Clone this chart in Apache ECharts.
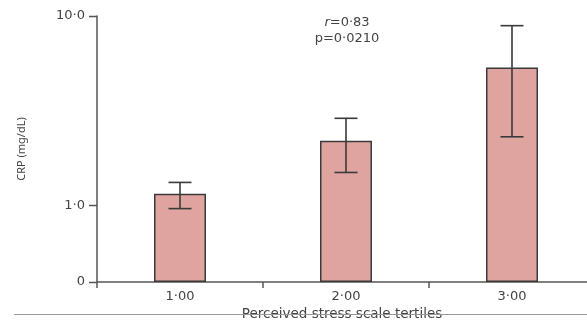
<!DOCTYPE html>
<html>
<head>
<meta charset="utf-8">
<style>
  html, body { margin: 0; padding: 0; background: #fff; }
  #chart { width: 587px; height: 320px; }
</style>
<script src="https://cdn.jsdelivr.net/npm/echarts@6/dist/echarts.min.js"></script>
</head>
<body>
<div id="chart"></div>
<script>
// CRP by perceived stress scale tertile (log scale)
const categories = ['1·00', '2·00', '3·00'];
const crpMean = [1.15, 2.19, 5.35];
const crpLow = [0.96, 1.49, 2.30];
const crpHigh = [1.32, 2.88, 8.89];
const yAxisMin = 0.393;   // bottom of the axis, labelled "0"
const yAxisMax = 10;
const yTickValues = [yAxisMin, 1, 10];
const statsLines = ['{i|r}=0·83', 'p=0·0210'];

const chart = echarts.init(document.getElementById('chart'), null, { renderer: 'canvas' });

const errorData = categories.map((c, i) => [i, crpLow[i], crpHigh[i]]);

const axisColor = '#555';
const textColor = '#444';
const font = 'DejaVu Sans';
const gridLeft = 97;

chart.setOption({
  animation: false,
  grid: { left: gridLeft, right: -8, top: 16, bottom: 38, containLabel: false, outerBoundsMode: 'none' },
  xAxis: {
    type: 'category',
    data: categories,
    axisLine: { lineStyle: { color: axisColor, width: 1.5 } },
    axisTick: { show: true, length: 6, lineStyle: { color: axisColor, width: 1.5 } },
    axisLabel: { color: textColor, fontFamily: font, fontSize: 13, margin: 8 },
    name: 'Perceived stress scale tertiles',
    nameLocation: 'middle',
    nameGap: 25,
    nameTextStyle: { color: textColor, fontFamily: font, fontSize: 13.5, padding: [0, 0, 0, -8] }
  },
  yAxis: {
    type: 'log',
    logBase: 10,
    min: yAxisMin,
    max: yAxisMax,
    startValue: yAxisMin,
    axisLine: { show: true, lineStyle: { color: axisColor, width: 1.5 } },
    axisTick: { show: false },
    splitLine: { show: false },
    minorTick: { show: false },
    axisLabel: {
      color: textColor, fontFamily: font, fontSize: 13, margin: 12,
      customValues: yTickValues,
      formatter: v => (v < 0.5 ? '0' : (Math.round(v * 10) / 10).toFixed(1).replace('.', '·'))
    },
    name: 'CRP (mg/dL)',
    nameLocation: 'middle',
    nameGap: 70,
    nameRotate: 90,
    nameTextStyle: { color: textColor, fontFamily: 'Noto Sans', fontSize: 11 }
  },
  series: [
    {
      type: 'bar',
      data: crpMean,
      barWidth: 52,
      itemStyle: { color: '#e0a4a0', borderColor: '#3a3a3a', borderWidth: 1.5 }
    },
    {
      // error bars (low / high)
      type: 'custom',
      data: errorData,
      z: 10,
      renderItem: (params, api) => {
        const x = api.value(0);
        const lo = api.coord([x, api.value(1)]);
        const hi = api.coord([x, api.value(2)]);
        const half = 11.5;
        const style = { stroke: '#3a3a3a', lineWidth: 1.6 };
        return {
          type: 'group',
          children: [
            { type: 'line', shape: { x1: hi[0], y1: hi[1], x2: lo[0], y2: lo[1] }, style },
            { type: 'line', shape: { x1: hi[0] - half, y1: hi[1], x2: hi[0] + half, y2: hi[1] }, style },
            { type: 'line', shape: { x1: lo[0] - half, y1: lo[1], x2: lo[0] + half, y2: lo[1] }, style }
          ]
        };
      }
    }
  ],
  graphic: [
    {
      type: 'text',
      id: 'stats',
      x: 347, y: 15,
      style: {
        text: statsLines[0] + '\n' + statsLines[1],
        fill: textColor, font: '13px "DejaVu Sans"', align: 'center',
        lineHeight: 16,
        rich: { i: { fontStyle: 'italic', fontFamily: font, fontSize: 13, fill: textColor } }
      }
    },
    {
      type: 'line',
      id: 'frameRule',
      shape: { x1: 14, y1: 314.5, x2: 587, y2: 314.5 },
      style: { stroke: '#999', lineWidth: 1 },
      z: 100
    }
  ]
});

// y-axis tick marks at the labelled values, placed through the grid's scale
const tickMarks = yTickValues.map((v, i) => {
  const pt = chart.convertToPixel({ gridIndex: 0 }, [0, v]);
  const y = Math.round(pt[1]) + 0.5;
  return {
    type: 'line',
    id: 'ytick' + i,
    shape: { x1: gridLeft - 8, y1: y, x2: gridLeft, y2: y },
    style: { stroke: axisColor, lineWidth: 1.5 },
    z: 50
  };
});
chart.setOption({ graphic: tickMarks });
</script>
</body>
</html>
